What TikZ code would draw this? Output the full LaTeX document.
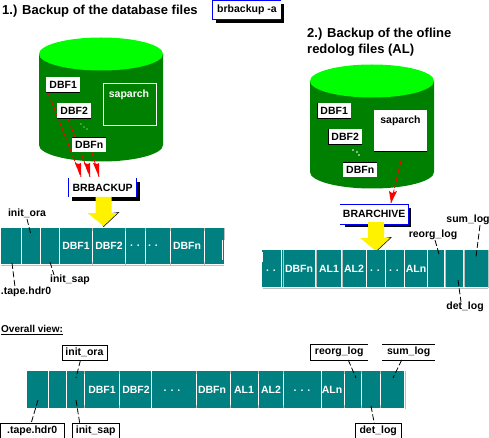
\documentclass[tikz,border=0pt]{standalone}
\usepackage{fontspec}
\setmainfont{Liberation Sans}
\usetikzlibrary{calc}
\definecolor{dbgreen}{RGB}{0,128,0}
\definecolor{lime}{RGB}{0,255,0}
\definecolor{tape}{RGB}{0,128,128}
\definecolor{sepgray}{RGB}{190,190,190}
\tikzset{
 x=1pt,y=-1pt,
 cylbody/.style={fill=dbgreen,draw=none},
 cyltop/.style={fill=lime,draw=none},
 filebox/.style={fill=white,draw=none,text=black,font=\fontsize{10.5}{10}\selectfont\bfseries,inner sep=0pt,minimum width=34pt,minimum height=15pt,anchor=north west},
 sapbox/.style={inner sep=0pt,anchor=north west,font=\fontsize{10.5}{10}\selectfont\bfseries},
 tapetext/.style={text=white,font=\fontsize{10.5}{10}\selectfont\bfseries,inner sep=0pt},
 lbl/.style={text=black,font=\fontsize{10.5}{10}\selectfont\bfseries,inner sep=0pt},
 lblbox/.style={lbl,fill=white,minimum height=15pt,anchor=north west},
 head/.style={font=\fontsize{13}{16}\selectfont\bfseries,inner sep=0pt,anchor=west,align=left},
 sepw/.style={white,line width=1pt},
 sepg/.style={sepgray,line width=1pt},
 leader/.style={black,line width=.8pt,dash pattern=on 6pt off 2.5pt},
 redline/.style={red,line width=.8pt,dash pattern=on 6pt off 1.5pt},
 redtip/.style={fill=red,draw=none},
 yellowarrow/.style={fill=yellow,draw=none},
 shadow/.style={fill=black,draw=none},
 blueedge/.style={blue,line width=.9pt},
 blackedge/.style={black,line width=.8pt},
}
\newcommand{\cyl}[2]{% cx, top ellipse cy
 \path[cylbody] (#1-62,#2) -- (#1-62,#2+91) arc[start angle=180,end angle=360,x radius=62,y radius=-16.5] -- (#1+62,#2) -- cycle;
 \path[cyltop] (#1,#2) ellipse[x radius=62,y radius=16.5];
}
\newcommand{\yarrow}[2]{% cx, shaft top
 \path[shadow] (#1+9,#2+16) -- (#1+16,#2+15) -- (#1,#2+30) -- (#1-1,#2+28) -- cycle;
 \path[yellowarrow] (#1-8,#2) -- (#1+8,#2) -- (#1+8,#2+16) -- (#1+14,#2+16) -- (#1,#2+29) -- (#1-16,#2+16) -- (#1-8,#2+16) -- cycle;
}
\begin{document}
\begin{tikzpicture}
\useasboundingbox (0,0) rectangle (489,438);
% headings
\node[head] (h1) at (2,11) {1.) Backup of the database files};
\node[head] (h2) at (307,42) {2.) Backup of the ofline\\redolog files (AL)};
\node[head,font=\fontsize{10}{10}\selectfont\bfseries] (h3) at (1,330) {\underline{Overall view:}};
% brbackup -a
\path[shadow] (216,4) rectangle (284,23.5);
\node[lbl,fill=white,minimum width=69pt,minimum height=19pt,anchor=north west] (cmdbox) at (212,0.5) {};
\node[lbl,anchor=west] (cmd) at (217,10) {brbackup -a};
\draw[blueedge] (cmdbox.south east) -- (cmdbox.south west) -- (cmdbox.north west) -- (cmdbox.north east);
% left cylinder
\cyl{101}{54}
\node[sapbox,draw=white,line width=.7pt,minimum width=53pt,minimum height=42pt] (sap1) at (102.5,83.5) {};
\node[text=white,font=\fontsize{10.5}{10}\selectfont\bfseries,inner sep=0pt] (sap1t) at (129,95) {saparch};
\coordinate (t1) at (81,177);\coordinate (t2) at (90,177);\coordinate (t3) at (99,177);
\node[filebox] (d1) at (46,77) {DBF1};
\draw[redline] ([xshift=2pt]d1.south west) -- (t1);
\node[filebox] (d2) at (57,103) {DBF2};
\draw[redline] ([xshift=11pt]d2.south west) -- (t2);
\node[filebox] (dn) at (72,137) {DBFn};
\draw[redline] ([xshift=20pt]dn.south west) -- (t3);
\draw[blackedge] (d1.south west) -- (d1.south east);
\draw[blackedge] (d2.south west) -- (d2.south east);
\draw[blackedge] (dn.north west) -- (dn.north east);
\path[redtip] (t1) -- ++(-6,-14) -- ++(4,1) -- ++(2,-1) -- cycle;
\path[redtip] (t2) -- ++(-6,-14) -- ++(4,1) -- ++(2,-1) -- cycle;
\path[redtip] (t3) -- ++(-6,-14) -- ++(4,1) -- ++(2,-1) -- cycle;
\path[fill=white] (81,124) circle(.7) (84,127) circle(.7) (87,129) circle(.7);
% BRBACKUP
\path[shadow] (72,182) -- (140,182) -- (140,201) -- (72,201) -- cycle;
\node[lbl,fill=white,minimum width=68pt,minimum height=19pt,anchor=north west] (bb) at (68.5,178) {BRBACKUP};
\draw[blueedge] (bb.north west) -- (bb.south west);
\draw[blueedge] (bb.north east) -- (bb.south east);
\yarrow{103.5}{197}
% tape 1
\path[fill=tape] (1,228) rectangle (224,264);
\draw[sepgray,line width=1pt] (1,265) -- (224,265);
\draw[sepgray,line width=1pt] (224,228) -- (224,240);
\draw[white,line width=1.2pt] (222.5,240) -- (222.5,260);
\foreach \s in {21.5,40.5,59.5}{\draw[sepw] (\s,228) -- (\s,264);}
\foreach \s in {92,125,145,170,204}{\draw[sepw] (\s,228) -- (\s,264);\draw[sepg] (\s+.5,228) -- (\s+.5,231);\draw[sepg] (\s+.5,262) -- (\s+.5,265);}
\node[tapetext] (a1) at (76,246) {DBF1};
\node[tapetext] (a2) at (109,246) {DBF2};
\node[tapetext] (a3) at (135,246) {. .};
\node[tapetext] (a4) at (153,246) {. .};
\node[tapetext] (a5) at (187,246) {DBFn};
\node[lbl] (io1) at (27,213) {init\_ora};
\node[lbl] (is1) at (70,280) {init\_sap};
\node[lbl] (th1) at (26,292) {.tape.hdr0};
\coordinate (c1) at (31,235);\coordinate (c2) at (50,262);\coordinate (c3) at (12,263);
\draw[leader] (io1) ++(0,6) -- (c1);
\draw[leader] (c2) -- ([xshift=-16pt]is1.north);
\draw[leader] (c3) -- ([xshift=-11pt]th1.north);
% right cylinder
\cyl{372}{81}
\node[sapbox,fill=white,minimum width=53pt,minimum height=41pt] (sap2) at (374,110) {};
\draw[blackedge] (sap2.south west) -- (sap2.south east);
\node[lbl] (sap2t) at (400.5,121) {saparch};
\node[filebox] (e1) at (317,103) {DBF1};
\node[filebox] (e2) at (328,129) {DBF2};
\node[filebox] (en) at (343,162) {DBFn};
\foreach \n in {e1,e2}{\draw[blackedge] (\n.south west) -- (\n.south east);\draw[blackedge] (\n.north west) -- (\n.south west);}
\draw[blackedge] (en.north west) -- (en.north east);
\path[fill=white] (353,150) circle(.8) (357,152) circle(.8) (359,155) circle(.8);
\coordinate (t4) at (391,203);
\draw[redline] ([xshift=27pt,yshift=-9pt]sap2.south west) -- (t4);
\path[redtip] (t4) -- (389,191) -- (392,193) -- (397,191) -- cycle;
% BRARCHIVE
\path[shadow] (345,208) -- (411,208) -- (411,227) -- (345,227) -- cycle;
\node[lbl,fill=white,minimum width=68pt,minimum height=20pt,anchor=north west] (ba) at (340,204) {BRARCHIVE};
\draw[blueedge] (ba.north west) -- (ba.north east) -- (ba.south east) -- (ba.south west);
\yarrow{376}{222}
% tape 2
\path[fill=tape] (262,250) rectangle (488,287);
\draw[sepgray,line width=1pt] (263,288) -- (488,288);
\draw[sepgray,line width=1pt] (488,250) -- (488,288);
\foreach \s in {281.5,315,341,366,385,404,427,444,463}{\draw[sepw] (\s,250) -- (\s,287);}
\foreach \s in {283,316,342,445,464}{\draw[sepg] (\s,250) -- (\s,287);}
\draw[white,line width=1pt] (262,252) -- (262,262);
\node[tapetext] (b0) at (271,271) {. .};
\node[tapetext] (b1) at (299,269) {DBFn};
\node[tapetext] (b2) at (329,269) {AL1};
\node[tapetext] (b3) at (354,269) {AL2};
\node[tapetext] (b4) at (375,271) {. .};
\node[tapetext] (b5) at (394,271) {. .};
\node[tapetext] (b6) at (416,269) {ALn};
\node[lbl] (rl1) at (433,235) {reorg\_log};
\node[lbl] (sl1) at (468,220) {sum\_log};
\node[lbl] (dl1) at (465,307) {det\_log};
\coordinate (c4) at (439,254);\coordinate (c5) at (476,257);\coordinate (c6) at (458,280);
\draw[leader] ([xshift=2pt]rl1.south) -- (c4);
\draw[leader] ([xshift=12pt]sl1.south) -- (c5);
\draw[leader] (c6) -- ([xshift=-4pt]dl1.north);
% tape 3
\path[fill=tape] (27,371) rectangle (404,408);
\draw[sepgray,line width=1pt] (405,371) -- (405,409);
\foreach \s in {48,66,84,119,151,196,230,258,283,321,344,361,380}{\draw[sepw] (\s,371) -- (\s,408);}
\foreach \s in {84,119,196,230,258,283,344,361,380}{\draw[sepg] (\s+.5,371) -- (\s+.5,374);\draw[sepg] (\s+.5,405) -- (\s+.5,408);}
\foreach \x/\t/\n in {102/DBF1/f1,136/DBF2/f2,212/DBFn/f3,244/AL1/f4,271/AL2/f5,332/ALn/f6}{\node[tapetext] (\n) at (\x,389.5) {\t};}
\node[tapetext] (f7) at (172,391) {. . .};
\node[tapetext] (f8) at (302,391) {. . .};
\node[lblbox,draw=black,line width=.8pt,minimum width=45pt] (io3) at (61.5,344.5) {init\_ora};
\node[lblbox,minimum width=64pt] (th3) at (0,423) {.tape.hdr0};
\node[lblbox,minimum width=46pt] (is3) at (72.5,423) {init\_sap};
\node[lblbox,minimum width=57pt] (rl3) at (310.5,344.5) {reorg\_log};
\node[lblbox,minimum width=53pt] (sl3) at (382,344.5) {sum\_log};
\node[lblbox,minimum width=45pt] (dl3) at (355.5,423) {det\_log};
\draw[blackedge] (th3.south west) -- (th3.north west) -- (th3.north east) -- (th3.south east);
\draw[blackedge] (is3.south west) -- (is3.north west) -- (is3.north east) -- (is3.south east);
\draw[blackedge] (dl3.south west) -- (dl3.north west) -- (dl3.north east) -- (dl3.south east);
\draw[blackedge] (rl3.north east) -- (rl3.north west) -- (rl3.south west) -- (rl3.south east);
\draw[blackedge] (sl3.north west) -- (sl3.north east);
\draw[blackedge] (sl3.south west) -- (sl3.south east);
\coordinate (g1) at (76,378);\coordinate (g2) at (76,400);\coordinate (g3) at (38,400);
\coordinate (g4) at (356,378);\coordinate (g5) at (393,378);\coordinate (g6) at (371,406);
\draw[leader] (io3.south) ++(-4,0) -- (g1);
\draw[leader] (g2) -- ([xshift=-16pt]is3.north);
\draw[leader] (g3) -- ([xshift=-1pt]th3.north);
\draw[leader] ([xshift=9pt]rl3.south) -- (g4);
\draw[leader] ([xshift=-12pt]sl3.south) ++(5,0) -- (g5);
\draw[leader] (g6) -- ([xshift=-4pt]dl3.north);
\end{tikzpicture}
\end{document}
